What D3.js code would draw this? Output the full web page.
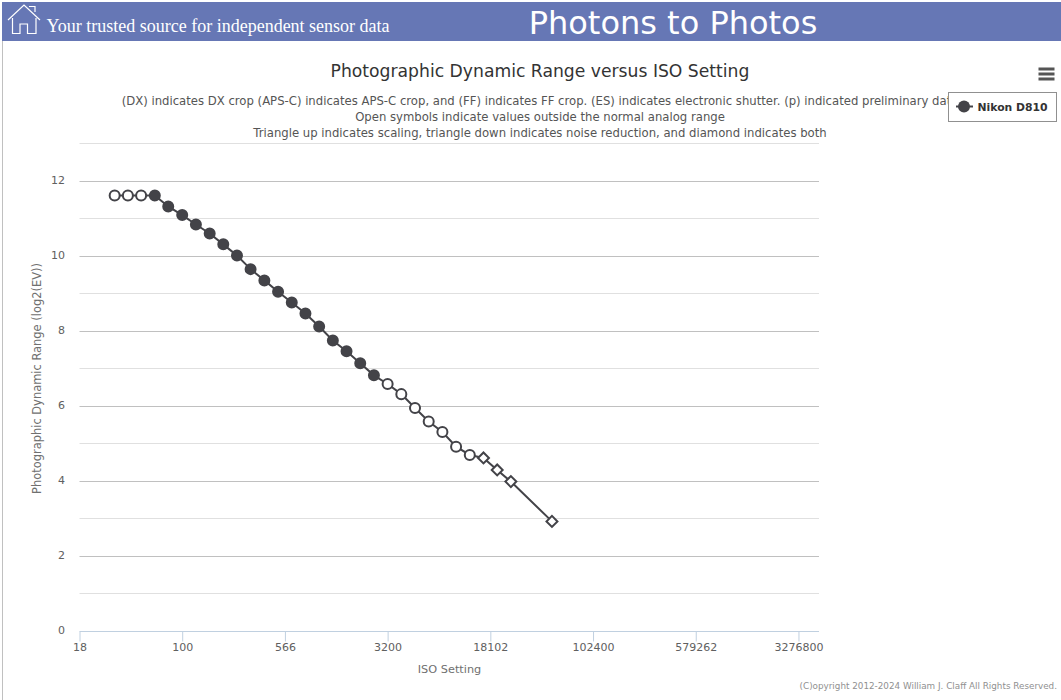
<!DOCTYPE html>
<html>
<head>
<meta charset="utf-8">
<script src="https://d3js.org/d3.v7.min.js"></script>
<style>
html, body { margin: 0; padding: 0; background: #fff; overflow: hidden; }
text { font-family: "DejaVu Sans", sans-serif; }
</style>
</head>
<body>
<svg id="chart" width="1061" height="700"></svg>
<script>
// data
const isoValues = [32, 40, 50, 63, 79, 100, 126, 159, 200, 252, 317, 400, 504, 635, 800, 1008, 1270, 1600, 2016, 2540,
    3200, 4032, 5080, 6400, 8063, 10159, 12800, 16127, 20319, 25600, 51200];
const dynamicRange = [11.60, 11.60, 11.60, 11.60, 11.31, 11.08, 10.83, 10.59, 10.30, 10.00, 9.64, 9.34, 9.04, 8.75, 8.46, 8.11,
    7.74, 7.45, 7.13, 6.81, 6.58, 6.31, 5.94, 5.58, 5.30, 4.91, 4.69, 4.61, 4.29, 3.98, 2.92];
// 0 filled circle, 1 open circle, 2 open diamond
const markerKinds = [1, 1, 1, 0, 0, 0, 0, 0, 0, 0, 0, 0, 0, 0, 0, 0, 0, 0, 0, 0,
    1, 1, 1, 1, 1, 1, 1, 2, 2, 2, 2];
const xTickValues = [17.68, 100, 565.7, 3200, 18102, 102400, 579262, 3276800];
const xTickLabels = ["18", "100", "566", "3200", "18102", "102400", "579262", "3276800"];
const yTicks = [0, 1, 2, 3, 4, 5, 6, 7, 8, 9, 10, 11, 12, 13];
const subtitleLines = [
    "(DX) indicates DX crop (APS-C) indicates APS-C crop, and (FF) indicates FF crop. (ES) indicates electronic shutter. (p) indicated preliminary data",
    "Open symbols indicate values outside the normal analog range",
    "Triangle up indicates scaling, triangle down indicates noise reduction, and diamond indicates both"
];

const seriesColor = "#434348";
const svg = d3.select("#chart");

// page frame and header
svg.append("rect").attr("x", 2).attr("y", 2).attr("width", 1).attr("height", 698).attr("fill", "#c0c0c0");
svg.append("rect").attr("x", 2).attr("y", 2).attr("width", 1059).attr("height", 39).attr("fill", "#6677b5");

svg.append("path")
    .attr("d", "M8 20 L24 5 L40 20 M12.5 18 V33.5 H20 V24 H27.5 V33.5 H36 V18 M29 6.5 H35 V12")
    .attr("fill", "none")
    .attr("stroke", "#fff")
    .attr("stroke-width", 1.2);

svg.append("text")
    .attr("x", 46.5).attr("y", 32)
    .attr("fill", "#fff")
    .style("font-family", "'Liberation Serif', serif")
    .style("font-size", "18px")
    .text("Your trusted source for independent sensor data");

svg.append("text")
    .attr("x", 673).attr("y", 34)
    .attr("text-anchor", "middle")
    .attr("fill", "#fff")
    .style("font-size", "32px")
    .text("Photons to Photos");

// scales
const x = d3.scaleLog().base(2).domain([17.68, 4634000]).range([79.5, 819]);
const y = d3.scaleLinear().domain([0, 13]).range([631, 143]);

// gridlines, even values darker
svg.append("g").selectAll("line")
    .data(yTicks.filter(d => d > 0))
    .join("line")
    .attr("x1", 79.5).attr("x2", 819)
    .attr("y1", d => Math.round(y(d)) + 0.5)
    .attr("y2", d => Math.round(y(d)) + 0.5)
    .attr("stroke", d => d % 2 == 0 ? "#c0c0c0" : "#e0e0e0");

// axes
let xAxis = svg.append("g")
    .attr("transform", "translate(0,631.5)")
    .call(d3.axisBottom(x).tickValues(xTickValues).tickFormat((d, i) => xTickLabels[i]).tickSize(10).tickPadding(2));
xAxis.select(".domain").attr("stroke", "#c0d0e0").attr("d", "M79.5,0H819");
xAxis.selectAll(".tick line").attr("stroke", "#c0d0e0");
xAxis.selectAll(".tick text").attr("fill", "#606060").style("font-size", "11px");

let yAxis = svg.append("g")
    .attr("transform", "translate(65,-1)")
    .call(d3.axisLeft(y).tickValues(yTicks.filter(d => d % 2 == 0)).tickSize(0).tickPadding(0));
yAxis.select(".domain").remove();
yAxis.selectAll(".tick text").attr("fill", "#606060").style("font-size", "11px");

// series line + markers
const line = d3.line().x(d => x(d[0])).y(d => y(d[1]));
const points = isoValues.map((iso, i) => [iso, dynamicRange[i], markerKinds[i]]);

svg.append("path")
    .attr("d", line(points))
    .attr("fill", "none")
    .attr("stroke", seriesColor)
    .attr("stroke-width", 2);

const diamond = d3.symbol().type(d3.symbolSquare).size(60);

svg.append("g").selectAll("path")
    .data(points)
    .join("path")
    .attr("d", d => d[2] == 2 ? diamond() : d3.symbol().type(d3.symbolCircle).size(d[2] == 0 ? 113 : 79)())
    .attr("transform", d => `translate(${x(d[0])},${y(d[1])})` + (d[2] == 2 ? " rotate(45)" : ""))
    .attr("fill", d => d[2] == 0 ? seriesColor : "#fff")
    .attr("stroke", seriesColor)
    .attr("stroke-width", d => d[2] == 0 ? 0 : 2);

// titles
svg.append("text")
    .attr("x", 540).attr("y", 77)
    .attr("text-anchor", "middle")
    .attr("fill", "#333")
    .style("font-size", "17.2px")
    .text("Photographic Dynamic Range versus ISO Setting");

svg.append("g").selectAll("text")
    .data(subtitleLines)
    .join("text")
    .attr("x", 540)
    .attr("y", (d, i) => 105 + i * 16)
    .attr("text-anchor", "middle")
    .attr("fill", "#555")
    .style("font-size", "11.67px")
    .text(d => d);

svg.append("text")
    .attr("x", 449.5).attr("y", 673)
    .attr("text-anchor", "middle")
    .attr("fill", "#707070")
    .style("font-size", "11.3px")
    .text("ISO Setting");

svg.append("text")
    .attr("transform", "translate(41,378.5) rotate(-90)")
    .attr("text-anchor", "middle")
    .attr("fill", "#707070")
    .style("font-size", "11.45px")
    .text("Photographic Dynamic Range (log2(EV))");

// legend box
svg.append("rect")
    .attr("x", 948.5).attr("y", 92.5).attr("width", 108).attr("height", 29)
    .attr("fill", "#fff")
    .attr("stroke", "#909090");
svg.append("line")
    .attr("x1", 956).attr("x2", 973).attr("y1", 106.5).attr("y2", 106.5)
    .attr("stroke", seriesColor).attr("stroke-width", 2);
svg.append("circle")
    .attr("cx", 964).attr("cy", 106.5).attr("r", 6).attr("fill", seriesColor);
svg.append("text")
    .attr("x", 977.5).attr("y", 110.5)
    .attr("fill", "#333")
    .style("font-size", "10.8px")
    .style("font-weight", "bold")
    .text("Nikon D810");

// menu icon
svg.append("g").selectAll("rect")
    .data([0, 1, 2])
    .join("rect")
    .attr("x", 1038.5).attr("y", d => 67.5 + d * 5)
    .attr("width", 16).attr("height", 3)
    .attr("fill", "#555");

// copyright
svg.append("text")
    .attr("x", 1057).attr("y", 689)
    .attr("text-anchor", "end")
    .attr("fill", "#909090")
    .style("font-size", "8.8px")
    .text("(C)opyright 2012-2024 William J. Claff All Rights Reserved.");
</script>
</body>
</html>
